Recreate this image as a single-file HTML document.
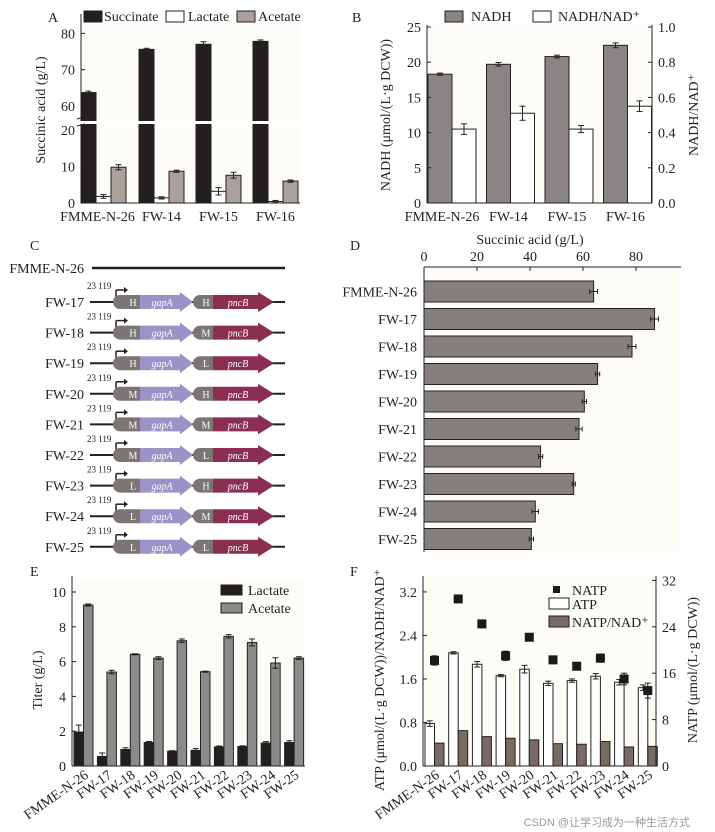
<!DOCTYPE html>
<html><head><meta charset="utf-8"><style>
html,body{margin:0;padding:0;background:#fff;}
svg{display:block;font-family:"Liberation Serif",serif;}
text{fill:#222;}
</style></head><body>
<svg id="fig" width="715" height="832" viewBox="0 0 715 832" xmlns="http://www.w3.org/2000/svg">
<text x="48" y="22" font-size="14">A</text>
<text x="352" y="22" font-size="14">B</text>
<text x="30" y="250" font-size="14">C</text>
<text x="350" y="250" font-size="14">D</text>
<text x="30" y="576" font-size="14">E</text>
<text x="350" y="576" font-size="14">F</text>
<text x="690" y="826" font-size="11" text-anchor="end" style="fill:#999;font-family:'Liberation Sans','Noto Sans CJK SC',sans-serif">CSDN @让学习成为一种生活方式</text>
</svg>
<script>
// ---------- DATA ----------
const catsAB = ["FMME-N-26","FW-14","FW-15","FW-16"];
const aSucc = [63.7,75.6,77.0,77.8];
const aSuccErr = [0.4,0.3,0.7,0.4];
const aLact = [1.8,1.4,3.2,0.4];
const aLactErr = [0.5,0.3,1.0,0.3];
const aAce = [9.8,8.7,7.6,6.0];
const aAceErr = [0.7,0.3,0.8,0.3];
const bNadh = [18.3,19.7,20.8,22.4];
const bNadhErr = [0.15,0.25,0.2,0.35];
const bRatio = [0.42,0.51,0.42,0.55];
const bRatioErr = [0.03,0.04,0.02,0.03];
const catsC = ["FW-17","FW-18","FW-19","FW-20","FW-21","FW-22","FW-23","FW-24","FW-25"];
const cGap = ["H","H","H","M","M","M","L","L","L"];
const cPnc = ["H","M","L","H","M","L","H","M","L"];
const catsD = ["FMME-N-26","FW-17","FW-18","FW-19","FW-20","FW-21","FW-22","FW-23","FW-24","FW-25"];
const dSucc = [64,87,78.5,65.5,60.5,58.5,44,56.5,42,40.5];
const dErr = [1.5,1.5,1.5,0.8,0.8,1.2,0.8,0.6,1.2,0.8];
const dTicks = [0,20,40,60,80];
const eLact = [1.95,0.55,0.95,1.35,0.85,0.9,1.1,1.12,1.32,1.35];
const eLactErr = [0.4,0.2,0.1,0.06,0.03,0.1,0.05,0.04,0.08,0.1];
const eAce = [9.25,5.4,6.42,6.2,7.2,5.42,7.45,7.1,5.92,6.2];
const eAceErr = [0.06,0.1,0.03,0.08,0.1,0.03,0.1,0.2,0.3,0.08];
const eTicks = [0,2,4,6,8,10];
const fAtp = [0.78,2.08,1.87,1.66,1.78,1.52,1.57,1.65,1.54,1.44];
const fAtpErr = [0.05,0.02,0.05,0.02,0.07,0.04,0.03,0.05,0.05,0.05];
const fRatio = [0.42,0.65,0.54,0.51,0.48,0.41,0.40,0.45,0.35,0.36];
const fNatp = [18.2,28.8,24.5,19.0,22.2,18.3,17.2,18.6,15.0,13.0];
const fNatpErr = [0.8,0,0,0.8,0,0.6,0.6,0.7,1.0,1.3];
const fLeftTicks = [0,0.8,1.6,2.4,3.2];
const fRightTicks = [0,8,16,24,32];

const NS="http://www.w3.org/2000/svg";
const svg=document.getElementById('fig');
function mk(tag,attrs){const e=document.createElementNS(NS,tag);for(const k in attrs)e.setAttribute(k,attrs[k]);svg.appendChild(e);return e;}
function line(x1,y1,x2,y2,name,w){const e=mk('line',{x1,y1,x2,y2,stroke:'#222','stroke-width':w||1});

return e;}
function txt(x,y,s,name,opt){const e=mk('text',Object.assign({x,y,'font-size':13},opt||{}));e.textContent=s;

return e;}
function rect(x,y,w,h,fill,name){const e=mk('rect',{x,y,width:w,height:h,fill,stroke:'#222','stroke-width':1});

return e;}
function vErr(x,y1,y2,name){if(Math.abs(y2-y1)<0.5)return;line(x,y1,x,y2,name);line(x-3,y1,x+3,y1,name);line(x-3,y2,x+3,y2,name);}

// ---------- PANEL A ----------
(function(){
 const yA=v=>v>=60?106-(v-60)*3.63:203-v*3.65;
 const x0=81,bw=15,gs=57;
 const bg=mk('rect',{x:82,y:25,width:220,height:178,fill:'#fdfcf6'});
 
 
 catsAB.forEach((c,i)=>{
  const gx=x0+i*gs+(i?1:0);
  rect(gx,yA(aSucc[i]),bw,203-yA(aSucc[i]),'#231f20','succinate-bar');
  vErr(gx+bw/2,yA(aSucc[i]+aSuccErr[i]),yA(aSucc[i]-aSuccErr[i]),'succinate-error');
  rect(gx+bw,yA(aLact[i]),bw,203-yA(aLact[i]),'#ffffff','lactate-bar');
  vErr(gx+bw*1.5,yA(aLact[i]+aLactErr[i]),yA(aLact[i]-aLactErr[i]),'lactate-error');
  rect(gx+bw*2,yA(aAce[i]),bw,203-yA(aAce[i]),'#aaa09c','acetate-bar');
  vErr(gx+bw*2.5,yA(aAce[i]+aAceErr[i]),yA(aAce[i]-aAceErr[i]),'acetate-error');
  txt(gx+bw*1.5-(i===0?6:0),221,c,'x-tick-label',{'text-anchor':'middle','font-size':14});
 });
 const gap=mk('rect',{x:78,y:121,width:230,height:3,fill:'#fff'});
 
 
 line(81,14,81,121,'y-axis-upper');line(81,124,81,203,'y-axis-lower');
 line(77,119,85,117,'axis-break-mark');line(77,126,85,124,'axis-break-mark');
 line(81,203,300,203,'x-axis');
 [60,70,80].forEach(v=>{line(81,yA(v),85,yA(v),'y-tick');txt(75,yA(v)+5,String(v),'y-tick-label',{'text-anchor':'end','font-size':14});});
 [0,10,20].forEach(v=>{line(81,yA(v),85,yA(v),'y-tick');txt(75,yA(v)+5,String(v),'y-tick-label',{'text-anchor':'end','font-size':14});});
 txt(0,0,'Succinic acid (g/L)','y-axis-title',{transform:'translate(45,110) rotate(-90)','text-anchor':'middle','font-size':14});
 rect(84,11,18,11,'#231f20','legend-swatch-succinate');txt(104,21,'Succinate','legend-succinate',{'font-size':14});
 rect(166,11,18,11,'#fff','legend-swatch-lactate');txt(188,21,'Lactate','legend-lactate',{'font-size':14});
 rect(237,11,18,11,'#aaa09c','legend-swatch-acetate');txt(258,21,'Acetate','legend-acetate',{'font-size':14});
})();

// ---------- PANEL B ----------
(function(){
 const yL=v=>203-v*7.04, yR=v=>203-v*176;
 const bg=mk('rect',{x:428,y:25,width:224,height:178,fill:'#fdfcf6'});
 
 
 catsAB.forEach((c,i)=>{
  const gx=428+i*58.5,bw=24;
  rect(gx,yL(bNadh[i]),bw,203-yL(bNadh[i]),'#8a8584','nadh-bar');
  vErr(gx+bw/2,yL(bNadh[i]+bNadhErr[i]),yL(bNadh[i]-bNadhErr[i]),'nadh-error');
  rect(gx+bw,yR(bRatio[i]),bw,203-yR(bRatio[i]),'#fff','nadh-nad-ratio-bar');
  vErr(gx+bw*1.5,yR(bRatio[i]+bRatioErr[i]),yR(bRatio[i]-bRatioErr[i]),'ratio-error');
  txt(gx+bw-(i===0?10:2),221,c,'x-tick-label',{'text-anchor':'middle','font-size':14});
 });
 line(427,25,427,203,'left-y-axis');line(652,25,652,203,'right-y-axis');line(427,203,652,203,'x-axis');
 [0,5,10,15,20,25].forEach(v=>{line(427,yL(v),431,yL(v),'left-y-tick');txt(421,yL(v)+5,String(v),'left-y-tick-label',{'text-anchor':'end','font-size':14});});
 [0,0.2,0.4,0.6,0.8,1.0].forEach(v=>{line(648,yR(v),652,yR(v),'right-y-tick');txt(658,yR(v)+5,v.toFixed(1),'right-y-tick-label',{'font-size':14});});
 txt(0,0,'NADH (μmol/(L·g DCW))','left-y-axis-title',{transform:'translate(390,115) rotate(-90)','text-anchor':'middle','font-size':14});
 txt(0,0,'NADH/NAD⁺','right-y-axis-title',{transform:'translate(698,115) rotate(-90)','text-anchor':'middle','font-size':14});
 rect(445,11,18,11,'#8a8584','legend-swatch-nadh');txt(471,21,'NADH','legend-nadh',{'font-size':14});
 rect(533,11,18,11,'#fff','legend-swatch-ratio');txt(558,21,'NADH/NAD⁺','legend-ratio',{'font-size':14});
})();

// ---------- PANEL C ----------
(function(){
 txt(84,273,'FMME-N-26','strain-label',{'text-anchor':'end','font-size':14});
 line(92,268,285,268,'backbone-line',2.5);
 catsC.forEach((c,i)=>{
  const y=302+i*30.6;
  txt(84,y+5,c,'strain-label',{'text-anchor':'end','font-size':14});
  line(90,y,285,y,'backbone-line',2);
  line(116,y,116,y-12,'promoter-stem',1.5);line(116,y-12,124,y-12,'promoter-arm',1.5);
  let a=mk('path',{d:`M124 ${y-15} L128 ${y-12} L124 ${y-9} Z`,fill:'#222'});
  
  
  txt(87,y-13,'23 119','promoter-name',{'font-size':9});
  a=mk('path',{d:`M120 ${y-7} L140 ${y-7} L140 ${y+7} L120 ${y+7} A7 7 0 0 1 120 ${y-7} Z`,fill:'#7b7574'});
  
  
  a=mk('path',{d:`M140 ${y-7} L180 ${y-7} L180 ${y-10} L193 ${y} L180 ${y+10} L180 ${y+7} L140 ${y+7} Z`,fill:'#9b93c8'});
  
  
  a=mk('path',{d:`M200 ${y-7} L213 ${y-7} L213 ${y+7} L200 ${y+7} A7 7 0 0 1 200 ${y-7} Z`,fill:'#7b7574'});
  
  
  a=mk('path',{d:`M213 ${y-7} L258 ${y-7} L258 ${y-10} L274 ${y} L258 ${y+10} L258 ${y+7} L213 ${y+7} Z`,fill:'#8a2f52'});
  
  
  txt(133,y+4,cGap[i],'rbs-strength-gapa',{'font-size':10,'text-anchor':'middle',style:'fill:#fff'});
  txt(206,y+4,cPnc[i],'rbs-strength-pncb',{'font-size':10,'text-anchor':'middle',style:'fill:#fff'});
  txt(162,y+4,'gapA','gene-label-gapa',{'font-size':10,'text-anchor':'middle','font-style':'italic',style:'fill:#fff'});
  txt(238,y+4,'pncB','gene-label-pncb',{'font-size':10,'text-anchor':'middle','font-style':'italic',style:'fill:#fff'});
 });
})();

// ---------- PANEL D ----------
(function(){
 const xD=v=>424+v*2.65;
 const bg=mk('rect',{x:425,y:268,width:255,height:285,fill:'#fdfcf6'});
 
 
 line(424,267,681,267,'x-axis-top');line(424,267,424,552,'y-axis');
 dTicks.forEach(v=>{line(xD(v),267,xD(v),271,'x-tick');txt(xD(v),261,String(v),'x-tick-label',{'text-anchor':'middle','font-size':14});});
 txt(530,244,'Succinic acid (g/L)','x-axis-title',{'text-anchor':'middle','font-size':14});
 catsD.forEach((c,i)=>{
  const y=281+i*27.5;
  rect(424,y,xD(dSucc[i])-424,21,'#85807e','succinic-bar');
  const cy=y+10.5,x1=xD(dSucc[i]-dErr[i]),x2=xD(dSucc[i]+dErr[i]);
  line(x1,cy,x2,cy,'error-bar');line(x1,cy-2.5,x1,cy+2.5,'error-cap');line(x2,cy-2.5,x2,cy+2.5,'error-cap');
  txt(417,cy+5,c,'y-tick-label',{'text-anchor':'end','font-size':14});
 });
})();

// ---------- PANEL E ----------
(function(){
 const yE=v=>766-v*17.4;
 const bg=mk('rect',{x:73,y:578,width:232,height:188,fill:'#fdfcf6'});
 
 
 catsD.forEach((c,i)=>{
  const gx=74+i*23.4,bw=9.5;
  rect(gx,yE(eLact[i]),bw,766-yE(eLact[i]),'#231f20','lactate-bar');
  vErr(gx+bw/2,yE(eLact[i]+eLactErr[i]),yE(eLact[i]-eLactErr[i]),'lactate-error');
  rect(gx+bw,yE(eAce[i]),bw,766-yE(eAce[i]),'#8c8a8b','acetate-bar');
  vErr(gx+bw*1.5,yE(eAce[i]+eAceErr[i]),yE(eAce[i]-eAceErr[i]),'acetate-error');
  txt(0,0,c,'x-tick-label',{transform:`translate(${gx+bw*1.6},${777}) rotate(-35)`,'text-anchor':'end','font-size':14});
 });
 line(72,576,72,766,'y-axis');line(72,766,305,766,'x-axis');
 eTicks.forEach(v=>{line(72,yE(v),76,yE(v),'y-tick');txt(66,yE(v)+5,String(v),'y-tick-label',{'text-anchor':'end','font-size':14});});
 txt(0,0,'Titer (g/L)','y-axis-title',{transform:'translate(42,680) rotate(-90)','text-anchor':'middle','font-size':14});
 rect(221,585,21,10,'#231f20','legend-swatch-lactate');txt(248,595,'Lactate','legend-lactate',{'font-size':14});
 rect(221,603,21,10,'#8c8a8b','legend-swatch-acetate');txt(248,613,'Acetate','legend-acetate',{'font-size':14});
})();

// ---------- PANEL F ----------
(function(){
 const yL=v=>766-v*54.4, yR=v=>766-v*5.8;
 const bg=mk('rect',{x:424,y:576,width:232,height:190,fill:'#fdfcf6'});
 
 
 catsD.forEach((c,i)=>{
  const gx=425+i*23.7,bw=9.5;
  rect(gx,yL(fAtp[i]),bw,766-yL(fAtp[i]),'#fff','atp-bar');
  vErr(gx+bw/2,yL(fAtp[i]+fAtpErr[i]),yL(fAtp[i]-fAtpErr[i]),'atp-error');
  rect(gx+bw,yL(fRatio[i]),bw,766-yL(fRatio[i]),'#7a6a66','natp-nad-ratio-bar');
  vErr(gx+bw,yR(fNatp[i]+fNatpErr[i]),yR(fNatp[i]-fNatpErr[i]),'natp-error');
  const p=mk('rect',{x:gx+bw-4.5,y:yR(fNatp[i])-4.5,width:9,height:9,fill:'#1a1a1a'});
  
  
  txt(0,0,c,'x-tick-label',{transform:`translate(${gx+bw*1.6},${777}) rotate(-35)`,'text-anchor':'end','font-size':14});
 });
 line(423,576,423,766,'left-y-axis');line(656,576,656,766,'right-y-axis');line(423,766,656,766,'x-axis');
 fLeftTicks.forEach(v=>{line(423,yL(v),427,yL(v),'left-y-tick');txt(417,yL(v)+5,v.toFixed(1),'left-y-tick-label',{'text-anchor':'end','font-size':14});});
 fRightTicks.forEach(v=>{line(652,yR(v),656,yR(v),'right-y-tick');txt(662,yR(v)+5,String(v),'right-y-tick-label',{'font-size':14});});
 txt(0,0,'ATP (μmol/(L·g DCW))/NADH/NAD⁺','left-y-axis-title',{transform:'translate(384,680) rotate(-90)','text-anchor':'middle','font-size':14});
 txt(0,0,'NATP (μmol/(L·g DCW))','right-y-axis-title',{transform:'translate(697,670) rotate(-90)','text-anchor':'middle','font-size':14});
 const ls=mk('rect',{x:553,y:586,width:7,height:7,fill:'#1a1a1a'});
 
 
 txt(572,595,'NATP','legend-natp',{'font-size':14});
 rect(549,598,20,11,'#fff','legend-swatch-atp');txt(572,609,'ATP','legend-atp',{'font-size':14});
 rect(549,616,20,11,'#7a6a66','legend-swatch-ratio');txt(572,627,'NATP/NAD⁺','legend-ratio',{'font-size':14});
})();
</script>
</body></html>
